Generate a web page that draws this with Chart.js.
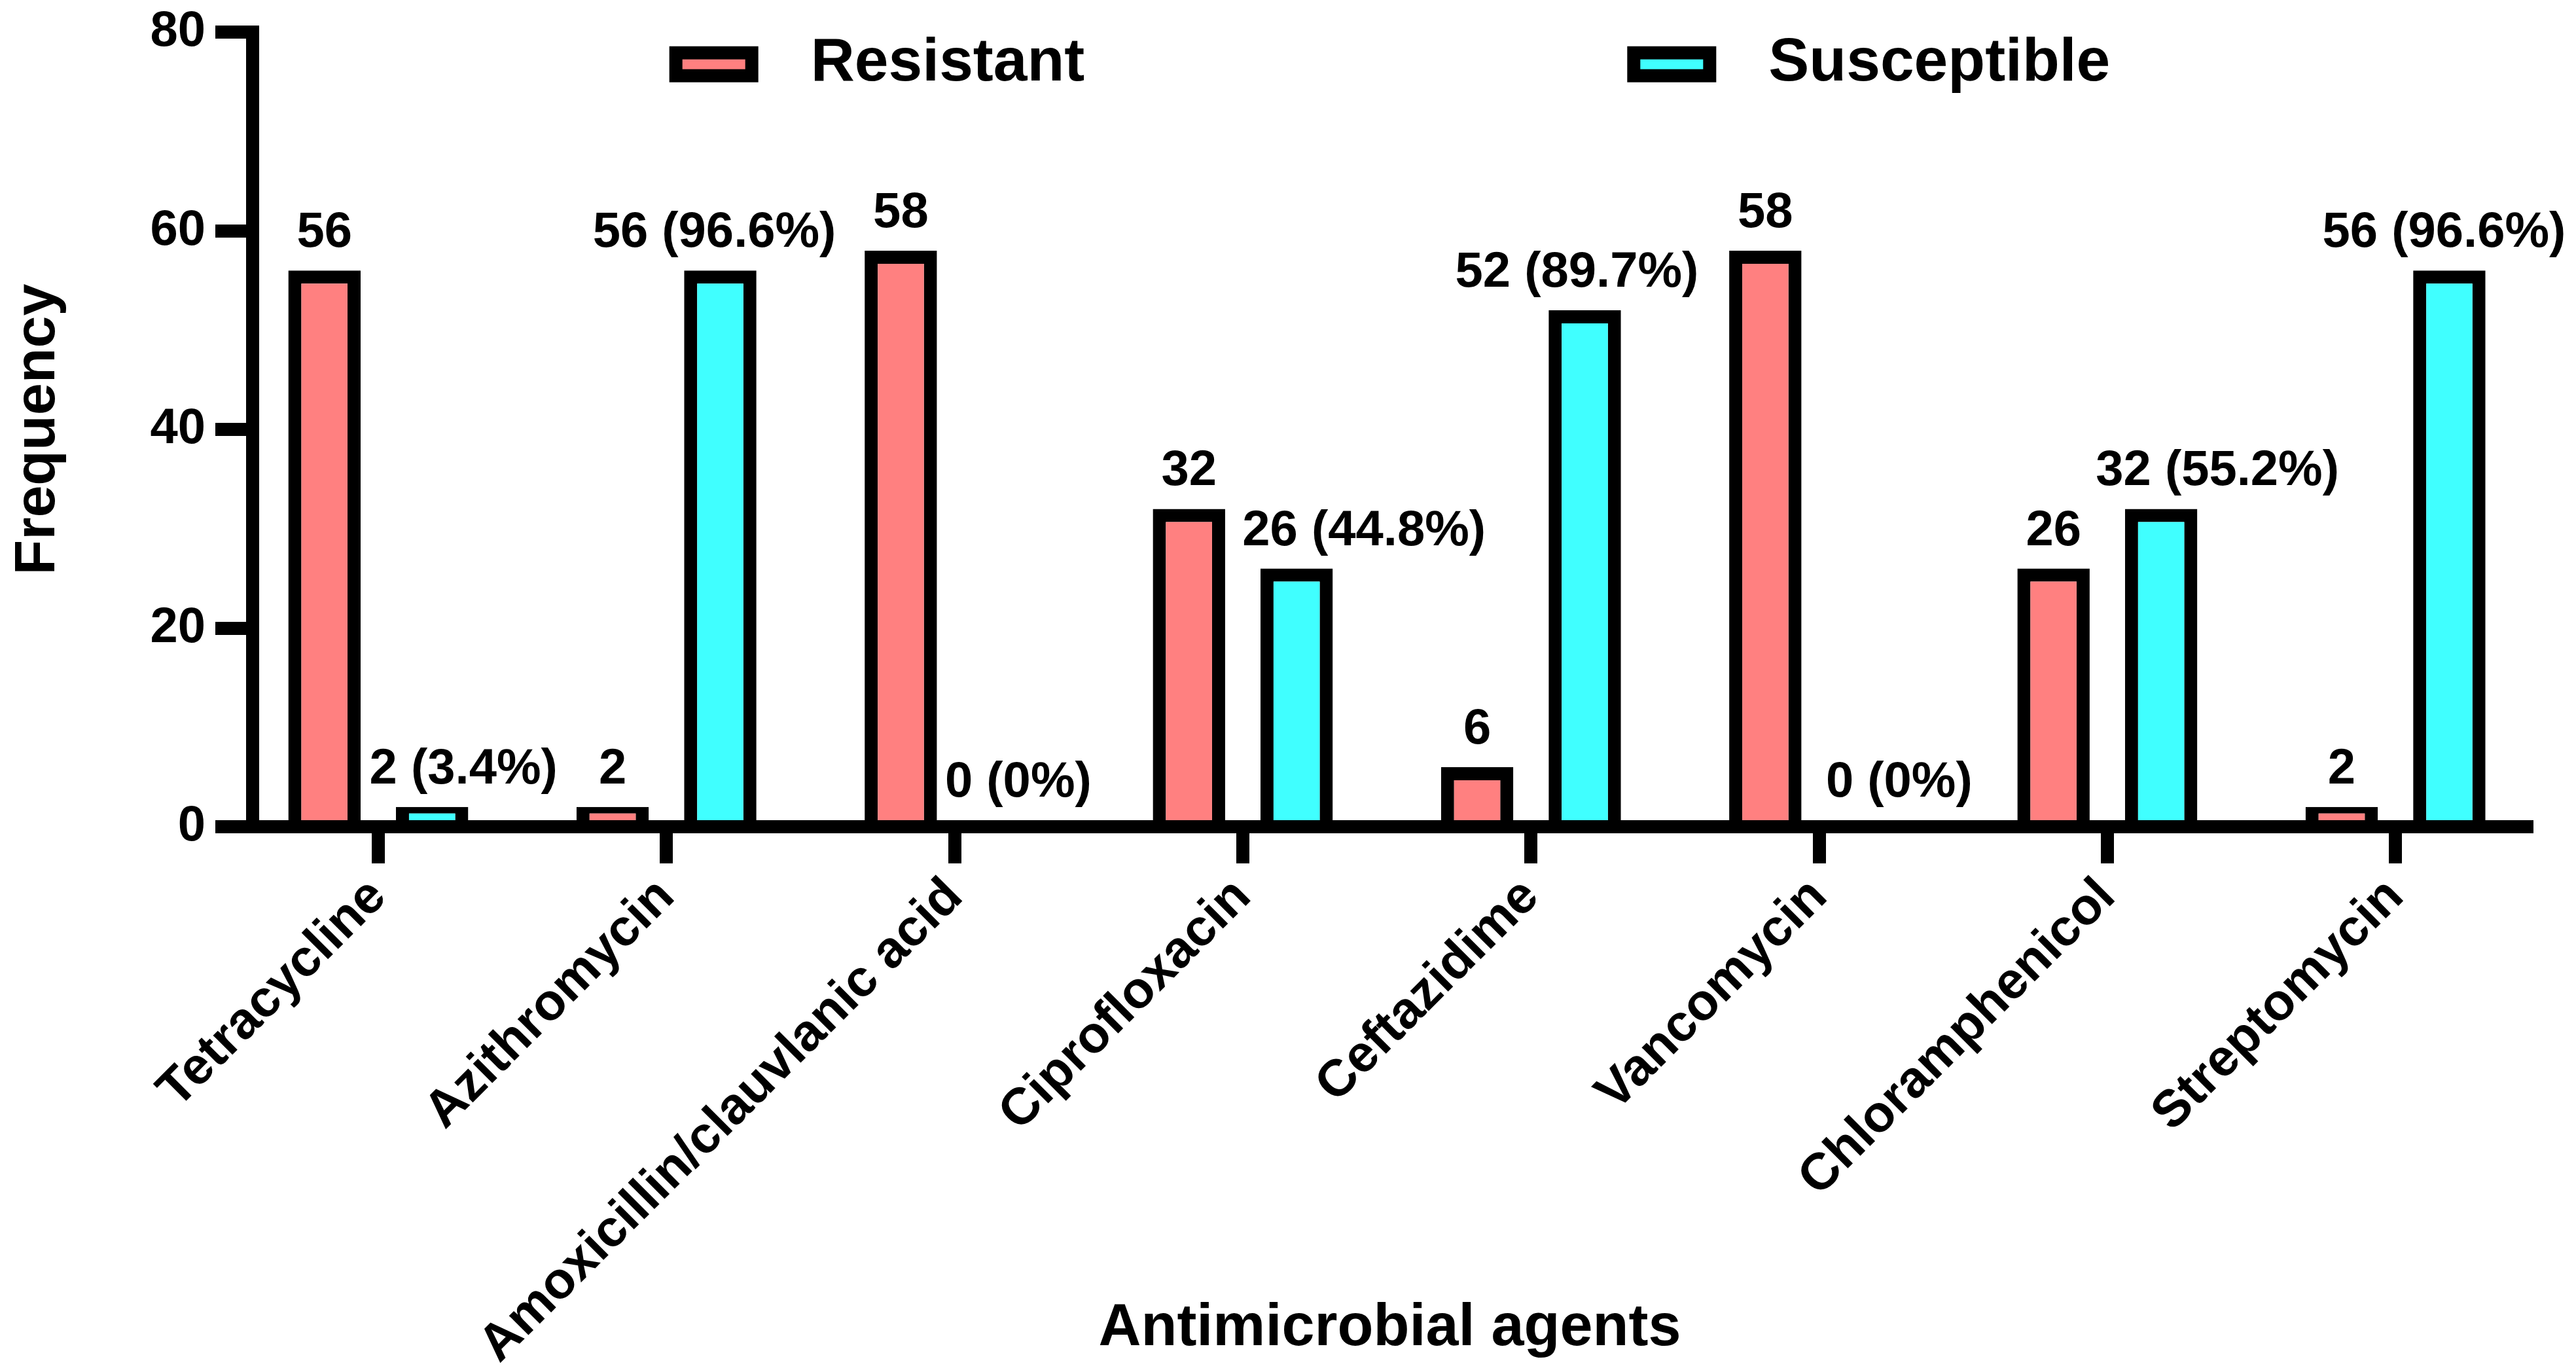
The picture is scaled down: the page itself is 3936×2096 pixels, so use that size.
<!DOCTYPE html>
<html>
<head>
<meta charset="utf-8">
<title>Antimicrobial agents – resistant vs susceptible</title>
<script src="https://cdn.jsdelivr.net/npm/chart.js@4.4.1/dist/chart.umd.min.js"></script>
<style>
  html, body { margin: 0; padding: 0; background: #ffffff; }
  #wrap { width: 3936px; height: 2096px; }
</style>
</head>
<body>
<div id="wrap"><canvas id="chart" width="3936" height="2096"></canvas></div>
<script>
// values
const agents = [
    'Tetracycline', 'Azithromycin', 'Amoxicillin/clauvlanic acid', 'Ciprofloxacin',
    'Ceftazidime', 'Vancomycin', 'Chloramphenicol', 'Streptomycin'
];
const resistant = [56, 2, 58, 32, 6, 58, 26, 2];
const susceptible = [2, 56, 0, 26, 52, 0, 32, 56];
const susceptiblePct = ['3.4', '96.6', '0', '44.8', '89.7', '0', '55.2', '96.6'];
const yTicks = { min: 0, max: 80, step: 20 };

// horizontal nudges of the susceptible labels (px), as placed in the figure
const susceptibleLabelShift = [48, -9, 15, 103, -12, 40, 86, -8];

const FONT = '"Liberation Sans", Arial, Helvetica, sans-serif';
const AXIS_W = 20;

Chart.defaults.font.family = FONT;
Chart.defaults.font.weight = 'bold';
Chart.defaults.color = '#000';

// text above every bar
const valueLabels = {
    id: 'valueLabels',
    afterDatasetsDraw(chart) {
        const { ctx } = chart;
        ctx.save();
        ctx.font = `bold 76px ${FONT}`;
        ctx.fillStyle = '#000';
        ctx.textAlign = 'center';
        ctx.textBaseline = 'alphabetic';
        chart.data.datasets.forEach((ds, di) => {
            chart.getDatasetMeta(di).data.forEach((bar, i) => {
                const top = Math.min(bar.y, bar.base - AXIS_W / 2);
                const shift = ds.labelShift ? ds.labelShift[i] : 0;
                ctx.fillText(ds.valueText[i], bar.x + shift, top - 36);
            });
        });
        ctx.restore();
    },
};

// legend with a wide gap between the two entries, drawn inside the plot
const gapLegend = {
    id: 'gapLegend',
    afterDraw(chart, args, opts) {
        const { ctx, chartArea } = chart;
        ctx.save();
        ctx.font = `bold ${opts.fontSize}px ${FONT}`;
        const items = chart.data.datasets.map((ds) => ({
            ds,
            w: opts.boxW + opts.textGap + ctx.measureText(ds.label).width,
        }));
        const total = items.reduce((s, it) => s + it.w, 0) + opts.itemGap * (items.length - 1);
        let x = (chartArea.left + chartArea.right) / 2 - total / 2;
        const cy = chartArea.top + opts.offsetY;
        const half = opts.border / 2;
        items.forEach((it) => {
            const bx = x + half;
            const by = cy - opts.boxH / 2 + half;
            const bw = opts.boxW - opts.border;
            const bh = opts.boxH - opts.border;
            ctx.fillStyle = it.ds.backgroundColor;
            ctx.fillRect(bx, by, bw, bh);
            ctx.lineWidth = opts.border;
            ctx.strokeStyle = it.ds.borderColor;
            ctx.strokeRect(bx, by, bw, bh);
            ctx.fillStyle = '#000';
            ctx.textAlign = 'left';
            ctx.textBaseline = 'middle';
            ctx.fillText(it.ds.label, x + opts.boxW + opts.textGap, cy - 1);
            x += it.w + opts.itemGap;
        });
        ctx.restore();
    },
};

const datasets = [
    {
        label: 'Resistant',
        data: resistant.map((v, i) => ({ x: i, y: v })),
        valueText: resistant.map((v) => String(v)),
        backgroundColor: '#FF8080',
    },
    {
        label: 'Susceptible',
        data: susceptible.map((v, i) => ({ x: i, y: v })),
        valueText: susceptible.map((v, i) => `${v} (${susceptiblePct[i]}%)`),
        labelShift: susceptibleLabelShift,
        backgroundColor: '#40FFFF',
    },
].map((ds) => ({
    ...ds,
    borderColor: '#000',
    borderWidth: 20,
    borderSkipped: 'start',
    categoryPercentage: 0.747,
    barPercentage: 0.672,
}));

new Chart(document.getElementById('chart'), {
    type: 'bar',
    data: { datasets },
    plugins: [valueLabels, gapLegend],
    options: {
        responsive: false,
        animation: false,
        devicePixelRatio: 1,
        layout: { padding: { top: 38, right: 75, bottom: 0, left: 0 } },
        plugins: {
            legend: { display: false },
            tooltip: { enabled: false },
            gapLegend: {
                fontSize: 93,
                boxW: 136,
                boxH: 55,
                border: 20,
                textGap: 80,
                itemGap: 829,
                offsetY: 49,
            },
        },
        scales: {
            x: {
                type: 'linear',
                min: -0.436,
                max: 7.456,
                offset: false,
                z: 1,
                afterFit: (scale) => { scale.height = 833; },
                border: { display: true, width: AXIS_W, color: '#000' },
                grid: {
                    offset: false,
                    drawOnChartArea: false,
                    drawTicks: true,
                    tickLength: 56,
                    tickWidth: 20,
                    lineWidth: 20,
                    color: '#000',
                    tickColor: '#000',
                },
                ticks: {
                    stepSize: 1,
                    autoSkip: false,
                    includeBounds: false,
                    minRotation: 45,
                    maxRotation: 45,
                    padding: 5,
                    color: '#000',
                    font: { size: 79, weight: 'bold' },
                    callback: (value) => agents[value] ?? '',
                },
                title: {
                    display: true,
                    text: 'Antimicrobial agents',
                    color: '#000',
                    font: { size: 90, weight: 'bold', lineHeight: 1 },
                    padding: { top: 0, bottom: 21 },
                },
            },
            y: {
                min: yTicks.min,
                max: yTicks.max,
                z: 1,
                afterFit: (scale) => { scale.width = 386; },
                border: { display: true, width: AXIS_W, color: '#000' },
                grid: {
                    drawOnChartArea: false,
                    drawTicks: true,
                    tickLength: 57,
                    tickWidth: 20,
                    lineWidth: 20,
                    color: '#000',
                    tickColor: '#000',
                },
                ticks: {
                    stepSize: yTicks.step,
                    padding: 15,
                    color: '#000',
                    font: { size: 76, weight: 'bold', lineHeight: 0.9 },
                },
                title: {
                    display: true,
                    text: 'Frequency',
                    color: '#000',
                    font: { size: 88, weight: 'bold', lineHeight: 1 },
                    padding: { top: 15, bottom: 0 },
                },
            },
        },
    },
});
</script>
</body>
</html>
